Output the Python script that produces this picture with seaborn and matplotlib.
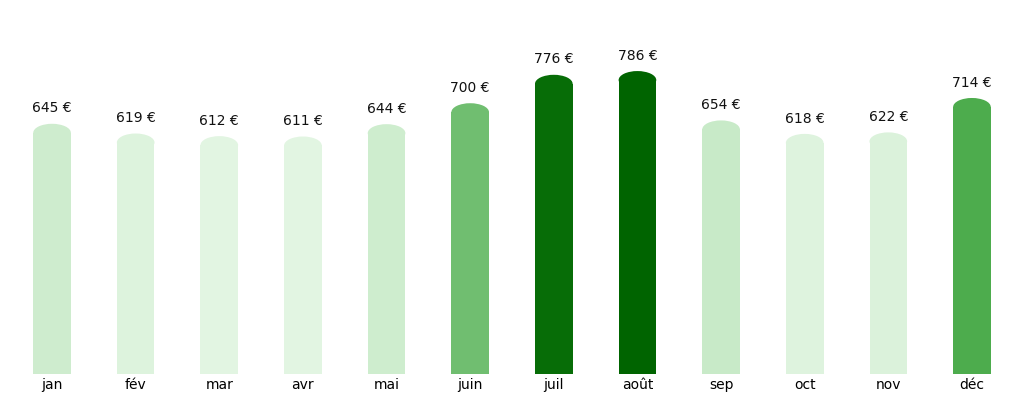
import matplotlib
matplotlib.use("Agg")
import matplotlib.pyplot as plt
import seaborn as sns
import pandas as pd
from matplotlib.patches import Ellipse
from matplotlib.colors import LinearSegmentedColormap, Normalize

months = ["jan", "fév", "mar", "avr", "mai", "juin", "juil", "août", "sep", "oct", "nov", "déc"]
values = [645, 619, 612, 611, 644, 700, 776, 786, 654, 618, 622, 714]

df = pd.DataFrame({"mois": months, "montant": values})

cmap = LinearSegmentedColormap.from_list("g", ["#e2f5e2", "#bfe6bf", "#2a9a2a", "#006400"])
norm = Normalize(vmin=min(values), vmax=max(values))
colors = [cmap(norm(v)) for v in values]

fig = plt.figure(figsize=(10.24, 4.03), dpi=100)
ax = fig.add_axes([0.01, 0.072, 0.98, 0.928])
sns.barplot(data=df, x="mois", y="montant", hue="mois", palette=colors,
            width=0.45, legend=False, ax=ax, saturation=1)
ax.set_ylim(0, 1000)
ax.set_xlim(-0.5, 11.5)

cap_h = 48
for bar, v, c in zip(ax.patches, values, colors):
    x0, w = bar.get_x(), bar.get_width()
    ax.add_patch(Ellipse((x0 + w / 2, v), w, cap_h, color=c, lw=0))
    ax.annotate(f"{v} €", (x0 + w / 2, v + cap_h / 2), xytext=(0, 6),
                textcoords="offset points", ha="center", va="bottom",
                fontsize=10, color="#111111")

ax.set_xlabel("")
ax.set_ylabel("")
ax.set_yticks([])
ax.tick_params(axis="x", length=0, labelsize=10, pad=3)
for s in ax.spines.values():
    s.set_visible(False)

fig.savefig("out.png", dpi=100)
